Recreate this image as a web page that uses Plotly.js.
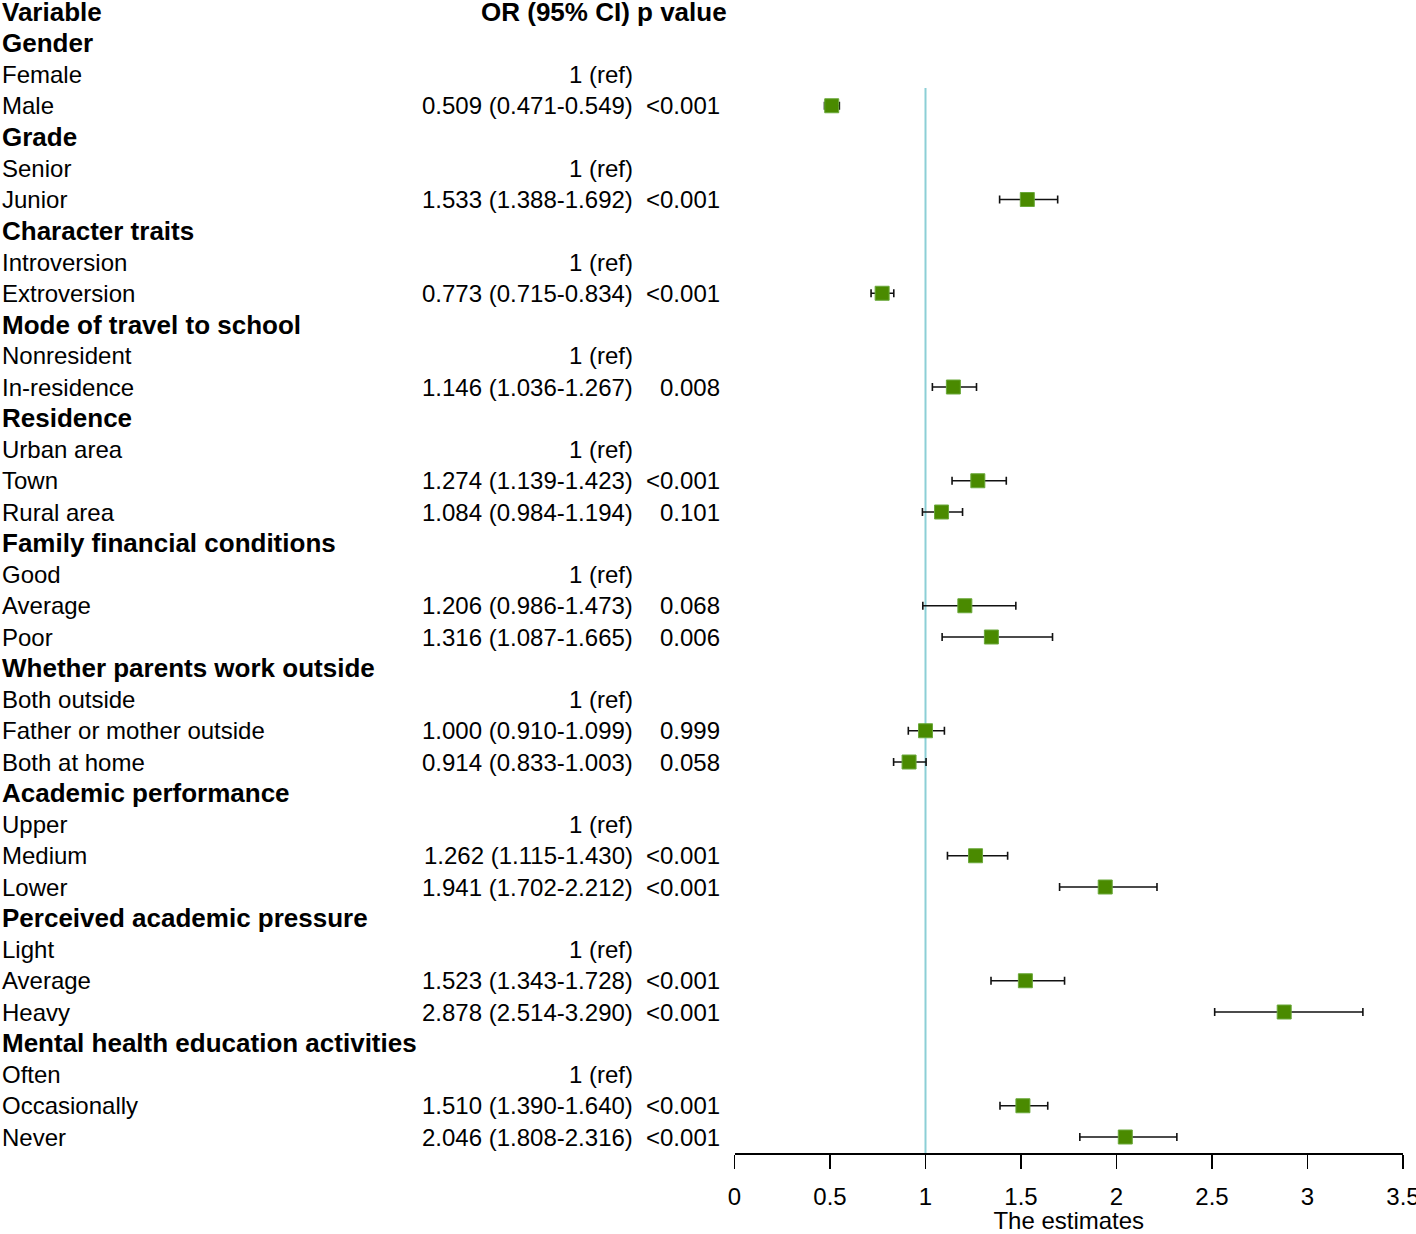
<!DOCTYPE html>
<html>
<head>
<meta charset="utf-8">
<script src="https://cdn.plot.ly/plotly-3.0.1.min.js"></script>
<style>
html,body{margin:0;padding:0;background:#fff;}
#chart{width:1416px;height:1234px;}
</style>
</head>
<body>
<div id="chart"></div>
<script>
// ---- data ----
const rowLabels = [
  "Variable",
  "Gender","Female","Male",
  "Grade","Senior","Junior",
  "Character traits","Introversion","Extroversion",
  "Mode of travel to school","Nonresident","In-residence",
  "Residence","Urban area","Town","Rural area",
  "Family financial conditions","Good","Average","Poor",
  "Whether parents work outside","Both outside","Father or mother outside","Both at home",
  "Academic performance","Upper","Medium","Lower",
  "Perceived academic pressure","Light","Average","Heavy",
  "Mental health education activities","Often","Occasionally","Never"
];
const rowBold = [
  1,
  1,0,0,
  1,0,0,
  1,0,0,
  1,0,0,
  1,0,0,0,
  1,0,0,0,
  1,0,0,0,
  1,0,0,0,
  1,0,0,0,
  1,0,0
];
const orText = [
  "OR (95% CI) p value",
  "","1 (ref)","0.509 (0.471-0.549)",
  "","1 (ref)","1.533 (1.388-1.692)",
  "","1 (ref)","0.773 (0.715-0.834)",
  "","1 (ref)","1.146 (1.036-1.267)",
  "","1 (ref)","1.274 (1.139-1.423)","1.084 (0.984-1.194)",
  "","1 (ref)","1.206 (0.986-1.473)","1.316 (1.087-1.665)",
  "","1 (ref)","1.000 (0.910-1.099)","0.914 (0.833-1.003)",
  "","1 (ref)","1.262 (1.115-1.430)","1.941 (1.702-2.212)",
  "","1 (ref)","1.523 (1.343-1.728)","2.878 (2.514-3.290)",
  "","1 (ref)","1.510 (1.390-1.640)","2.046 (1.808-2.316)"
];
const pText = [
  "",
  "","","<0.001",
  "","","<0.001",
  "","","<0.001",
  "","","0.008",
  "","","<0.001","0.101",
  "","","0.068","0.006",
  "","","0.999","0.058",
  "","","<0.001","<0.001",
  "","","<0.001","<0.001",
  "","","<0.001","<0.001"
];
// plotted estimates and CI bounds (null = no mark)
const est = [
  null,
  null,null,0.509,
  null,null,1.533,
  null,null,0.773,
  null,null,1.146,
  null,null,1.274,1.084,
  null,null,1.206,1.345,
  null,null,1.000,0.914,
  null,null,1.262,1.941,
  null,null,1.523,2.878,
  null,null,1.510,2.046
];
const ciLow = [
  null,
  null,null,0.471,
  null,null,1.388,
  null,null,0.715,
  null,null,1.036,
  null,null,1.139,0.984,
  null,null,0.986,1.087,
  null,null,0.910,0.833,
  null,null,1.115,1.702,
  null,null,1.343,2.514,
  null,null,1.390,1.808
];
const ciHigh = [
  null,
  null,null,0.549,
  null,null,1.692,
  null,null,0.834,
  null,null,1.267,
  null,null,1.423,1.194,
  null,null,1.473,1.665,
  null,null,1.099,1.003,
  null,null,1.430,2.212,
  null,null,1.728,3.290,
  null,null,1.640,2.316
];
const xTicks = [0,0.5,1,1.5,2,2.5,3,3.5];
const xTickText = ["0","0.5","1","1.5","2","2.5","3","3.5"];

// ---- build ----
const W = 1416, H = 1234;
const FONT = "Liberation Sans, Arial, sans-serif";
const rowsIdx = rowLabels.map((_, i) => i);

const px = [], py = [], ep = [], em = [];
for (let i = 0; i < est.length; i++) {
  if (est[i] !== null) {
    px.push(est[i]); py.push(i);
    ep.push(ciHigh[i] - est[i]); em.push(est[i] - ciLow[i]);
  }
}

const trace = {
  type: "scatter", mode: "markers",
  x: px, y: py,
  marker: {symbol: "square", size: 14, color: "#4a8a00", line: {color: "#6aa83a", width: 1}},
  error_x: {type: "data", symmetric: false, array: ep, arrayminus: em,
            color: "#111", thickness: 1.6, width: 4},
  hoverinfo: "x+y", showlegend: false, cliponaxis: false
};

const annotations = [];
rowsIdx.forEach(i => {
  annotations.push({
    xref: "paper", yref: "y", x: 0, y: i, xanchor: "left", yanchor: "middle",
    text: rowBold[i] ? "<b>" + rowLabels[i] + "</b>" : rowLabels[i],
    showarrow: false, font: {family: FONT, size: rowBold[i] ? 26 : 24, color: "#000"}
  });
  if (orText[i]) {
    const isHead = i === 0;
    annotations.push({
      xref: "paper", yref: "y", x: (isHead ? 729 : 635) / W, y: i, xanchor: "right", yanchor: "middle",
      text: isHead ? "<b>" + orText[i] + "</b>" : orText[i],
      showarrow: false, font: {family: FONT, size: isHead ? 26 : 24, color: "#000"}
    });
  }
  if (pText[i]) {
    annotations.push({
      xref: "paper", yref: "y", x: 722 / W, y: i, xanchor: "right", yanchor: "middle",
      text: pText[i].replace("<", "&lt;"),
      showarrow: false, font: {family: FONT, size: 24, color: "#000"}
    });
  }
});

const rowTop = 12, rowStep = 31.25, plotBottom = 1153;
const yBottom = (plotBottom - rowTop) / rowStep;
const yTop = (0 - rowTop) / rowStep;

const layout = {
  width: W, height: H,
  margin: {l: 0, r: 0, t: 0, b: H - plotBottom, pad: 0},
  paper_bgcolor: "#fff", plot_bgcolor: "#fff",
  font: {family: FONT, size: 24, color: "#000"},
  showlegend: false,
  xaxis: {
    domain: [734.5 / W, 1403 / W],
    range: [0, 3.5], tickvals: xTicks, ticktext: xTickText,
    showline: true, linecolor: "#000", linewidth: 1.5,
    ticks: "outside", ticklen: 14, tickwidth: 1.5, tickcolor: "#000",
    showgrid: false, zeroline: false,
    ticklabelstandoff: 8, ticklabeloverflow: "allow",
    tickfont: {family: FONT, size: 24, color: "#000"},
    title: {text: "The estimates", font: {family: FONT, size: 24, color: "#000"}, standoff: 8},
    fixedrange: true
  },
  yaxis: {
    range: [yBottom, yTop], visible: false, showgrid: false, zeroline: false, fixedrange: true
  },
  shapes: [{
    type: "line", xref: "x", yref: "y", x0: 1, x1: 1,
    y0: (88 - rowTop) / rowStep, y1: yBottom,
    line: {color: "#8ccfd6", width: 2}, layer: "below"
  }],
  annotations: annotations
};

Plotly.newPlot("chart", [trace], layout, {displayModeBar: false, staticPlot: true});
</script>
</body>
</html>
